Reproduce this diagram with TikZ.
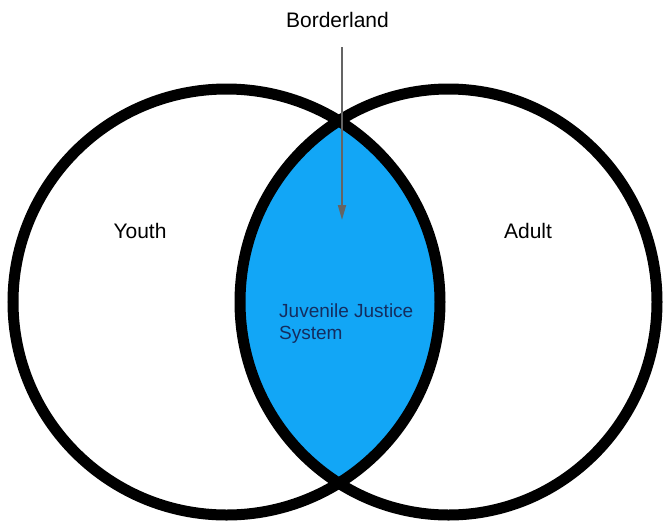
\documentclass[tikz,border=0pt]{standalone}
\usepackage{fontspec}
\setmainfont{Liberation Sans}
\usetikzlibrary{arrows.meta,shapes.geometric}
\definecolor{lensblue}{RGB}{18,166,246}
\definecolor{navytext}{RGB}{20,45,95}
\definecolor{arrowgray}{RGB}{100,100,100}
\tikzset{
  ring/.style={ellipse, draw=black, line width=11pt, inner sep=0pt},
  label/.style={font=\fontsize{21}{25}\selectfont, text=black, inner sep=0pt},
  pointer/.style={draw=arrowgray, line width=1.8pt, -{Triangle[length=15pt,width=8pt]}}
}
\begin{document}
\begin{tikzpicture}[x=1pt,y=-1pt]
  \useasboundingbox (0,0) rectangle (664,523);
  % shared region of the two sets
  \begin{scope}
    \clip (226.5,302) ellipse [x radius=213.5, y radius=213];
    \fill[lensblue] (448.5,302) ellipse [x radius=208.5, y radius=213];
  \end{scope}
  % the two sets
  \node[ring, minimum width=427pt, minimum height=426pt] (youthset) at (226.5,302) {};
  \node[ring, minimum width=417pt, minimum height=426pt] (adultset) at (448.5,302) {};
  % labels
  \node[label, anchor=base] (youth) at (140,238) {Youth};
  \node[label, anchor=base] (adult) at (528,238) {Adult};
  \node[label, anchor=base] (border) at (337.5,27) {Borderland};
  \node[anchor=base west, inner sep=0pt, text=navytext, align=left,
        font=\fontsize{19}{22}\selectfont] (jjs) at (279,339)
        {Juvenile Justice\\System};
  \coordinate (tail) at (342,47);
  \coordinate (tip) at (342,220);
  \draw[pointer] (tail) -- (tip);
\end{tikzpicture}
\end{document}
